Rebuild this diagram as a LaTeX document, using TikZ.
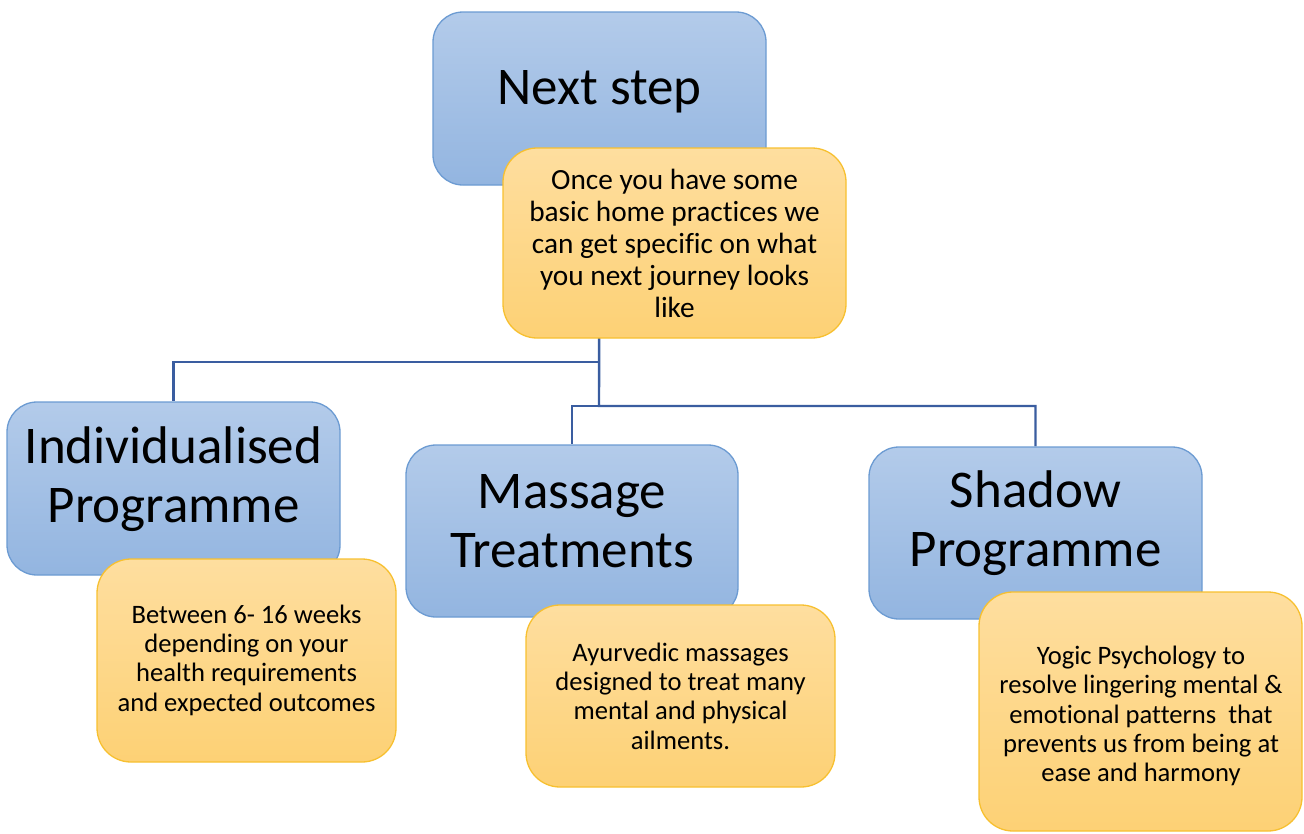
\documentclass[tikz,border=0pt]{standalone}
\usepackage{fontspec}
\setmainfont[Ligatures=NoCommon]{Carlito}
\usetikzlibrary{calc}
\pgfdeclarelayer{background}
\pgfsetlayers{background,main}
\definecolor{bluetop}{HTML}{B3CBEA}
\definecolor{bluebot}{HTML}{93B5E0}
\definecolor{blueline}{HTML}{6C9BD2}
\definecolor{orgtop}{HTML}{FEDE9F}
\definecolor{orgbot}{HTML}{FDD175}
\definecolor{orgline}{HTML}{F7C030}
\definecolor{connc}{HTML}{3A5DA0}
\tikzset{
  bluebox/.style={draw=blueline, line width=1.3pt, rounded corners=30pt, top color=bluetop, bottom color=bluebot, inner sep=0pt},
  orgbox/.style={draw=orgline, line width=1.3pt, rounded corners=34pt, top color=orgtop, bottom color=orgbot, inner sep=0pt},
  bigtxt/.style={align=center, font=\fontsize{53}{59}\selectfont, inner sep=0pt},
  midtxt/.style={align=center, font=\fontsize{29.3}{32}\selectfont, inner sep=0pt},
  smltxt/.style={align=center, font=\fontsize{26.6}{29.3}\selectfont, inner sep=0pt},
  conn/.style={draw=connc, line width=2.4pt}
}
\begin{document}
\begin{tikzpicture}[x=1pt,y=-1pt]
\useasboundingbox (0,0) rectangle (1304,833);
% top
\node[bluebox, minimum width=333pt, minimum height=173pt] (ns) at (599.5,98.5) {};
\node[bigtxt] (nst) at (599.5,92) {Next step};
\node[orgbox, minimum width=343pt, minimum height=190pt] (o0) at (674.5,243) {};
\node[midtxt] (o0t) at (674.5,243) {Once you have some\\basic home practices we\\can get specific on what\\you next journey looks\\like};
% individualised
\node[bluebox, minimum width=333pt, minimum height=173pt] (ip) at (173.5,488.5) {};
\node[bigtxt] (ipt) at (173.5,479) {Individualised\\Programme};
\node[orgbox, minimum width=299pt, minimum height=203pt] (o1) at (246.5,660.5) {};
\node[smltxt] (o1t) at (246.5,660) {Between 6- 16 weeks\\depending on your\\health requirements\\and expected outcomes};
% massage
\node[bluebox, minimum width=332pt, minimum height=172pt] (ms) at (572,531) {};
\node[bigtxt] (mst) at (572,521) {Massage\\Treatments};
\node[orgbox, minimum width=309pt, minimum height=182pt] (o2) at (680.5,696) {};
\node[smltxt] (o2t) at (680.5,696) {Ayurvedic massages\\designed to treat many\\mental and physical\\ailments.};
% shadow
\node[bluebox, minimum width=333pt, minimum height=172pt] (sh) at (1035.5,533) {};
\node[bigtxt] (sht) at (1035.5,523) {Shadow\\Programme};
\node[orgbox, minimum width=323pt, minimum height=239pt] (o3) at (1140.5,711.5) {};
\node[smltxt] (o3t) at (1141,716) {Yogic Psychology to\\resolve lingering mental \&\\emotional patterns\ \ that\\prevents us from being at\\ease and harmony};
% connectors
\coordinate (jA) at (599,362);
\coordinate (jB) at (599,406);
\begin{pgfonlayer}{background}
\draw[conn] (ns.south) -- (jB) -| (sh.north);
\draw[conn] (jA) -| (ip.north);
\draw[conn] (jB) -| (ms.north);
\end{pgfonlayer}
\end{tikzpicture}
\end{document}
